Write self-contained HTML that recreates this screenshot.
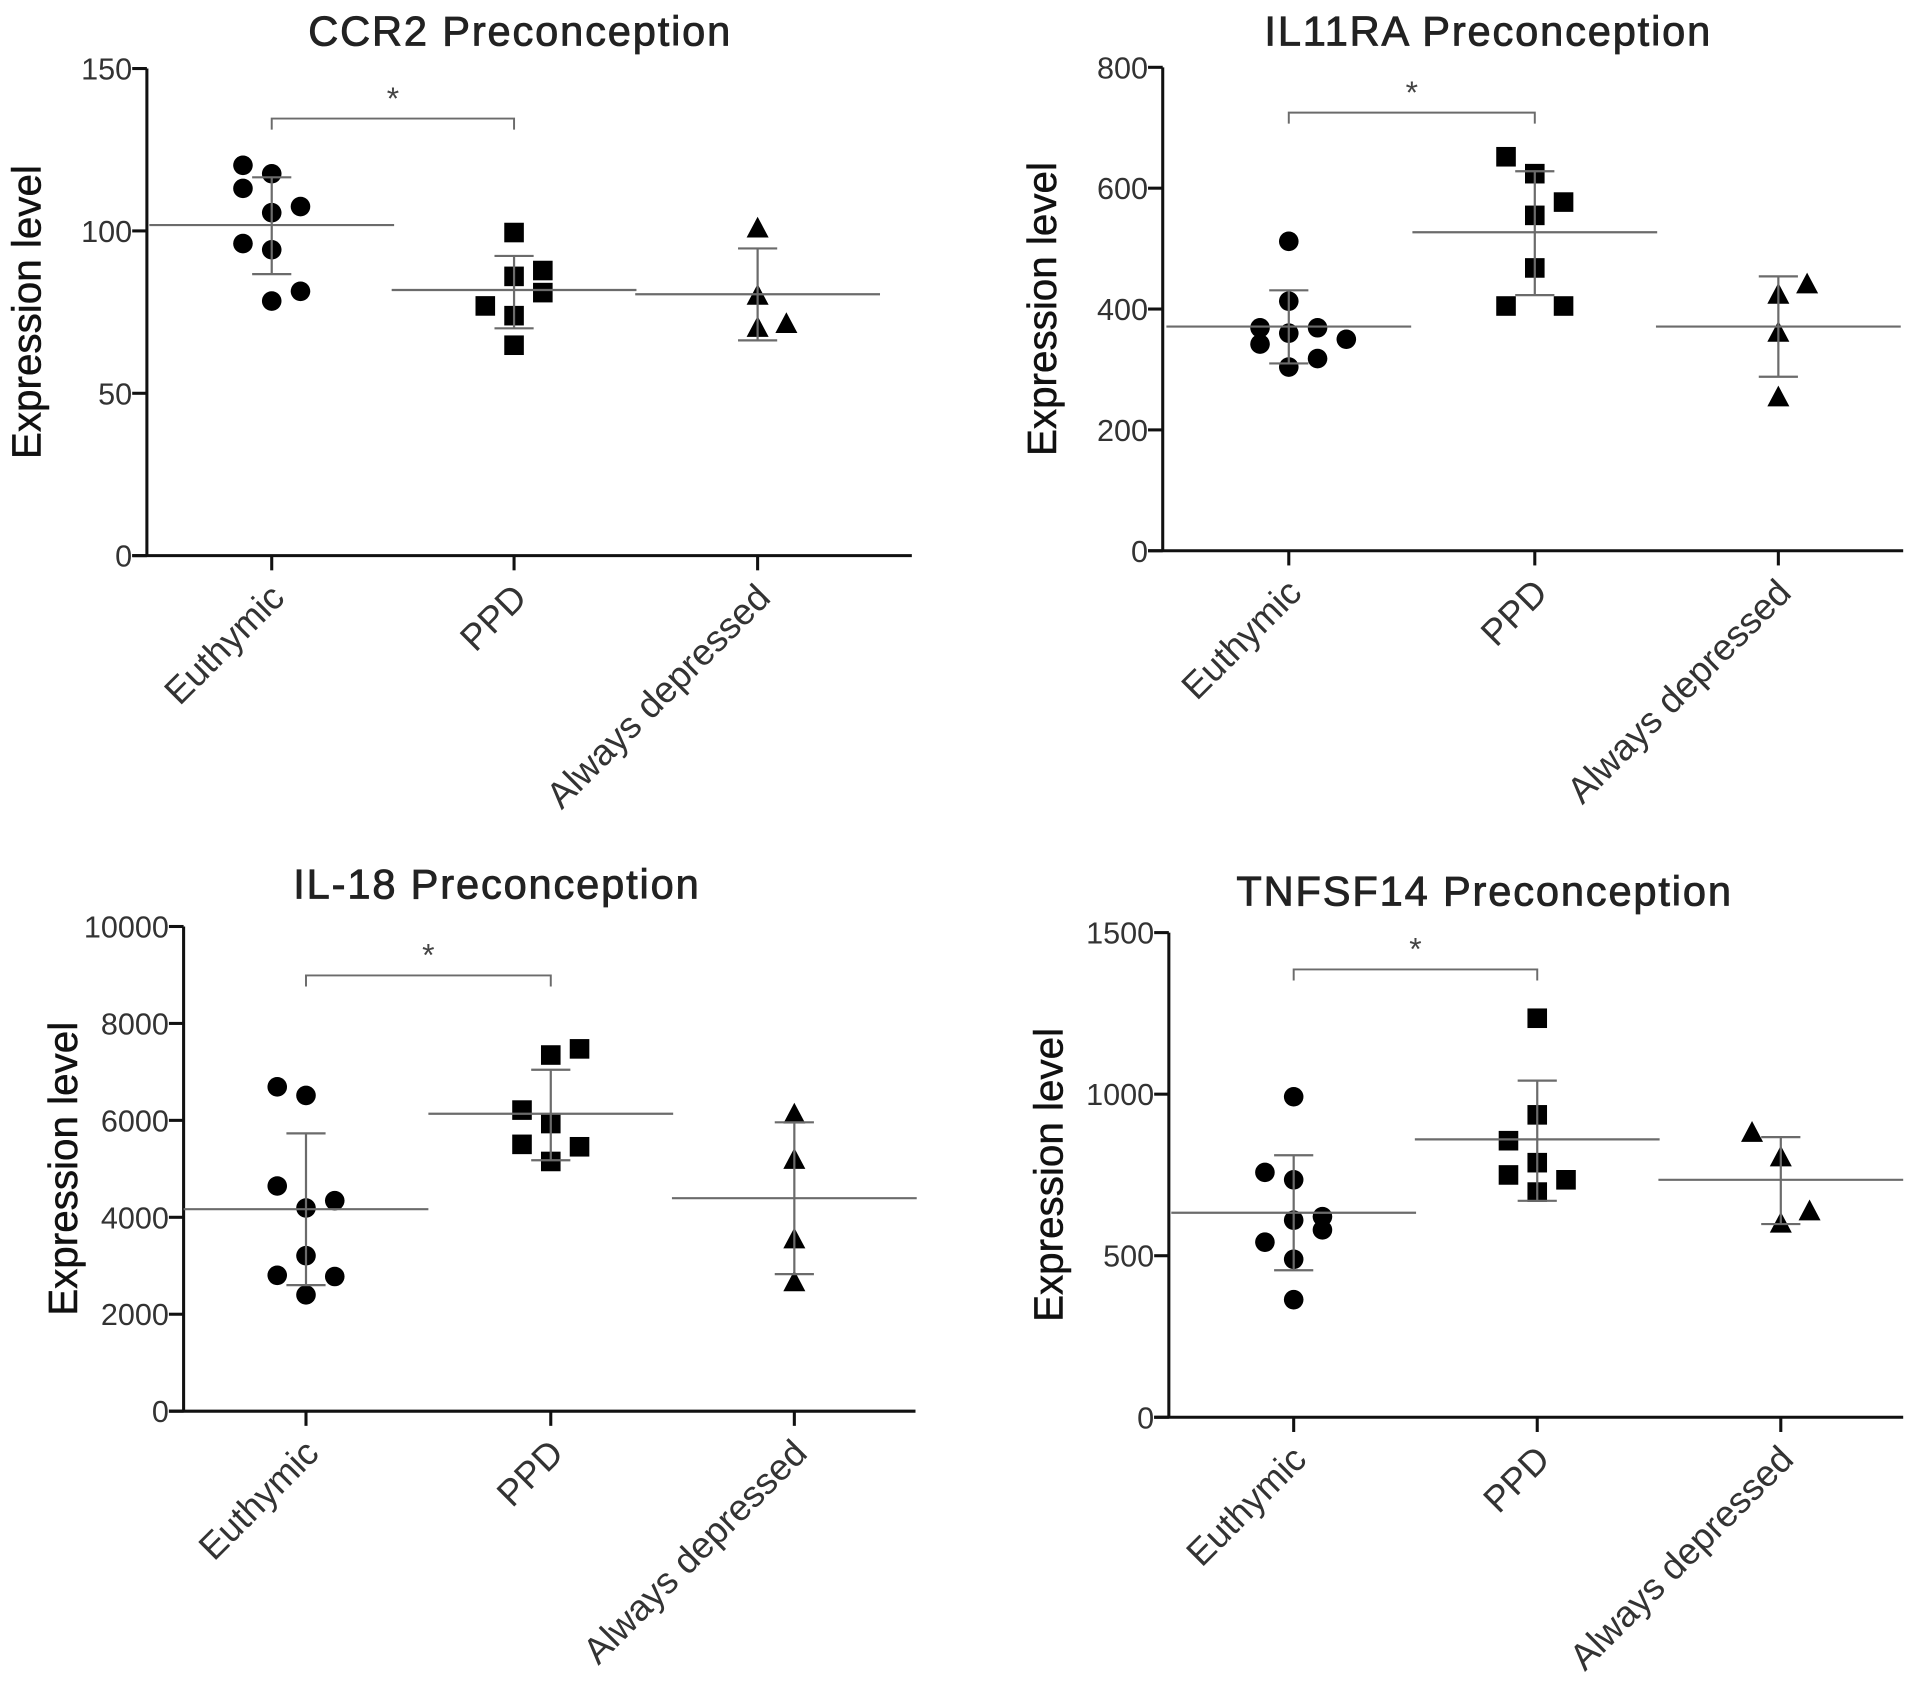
<!DOCTYPE html>
<html><head><meta charset="utf-8"><style>
html,body{margin:0;padding:0;background:#fff;}
svg{display:block;font-family:"Liberation Sans",Arial,sans-serif;}
</style></head><body>
<svg id="fig" width="1913" height="1700" viewBox="0 0 1563 1389" xmlns="http://www.w3.org/2000/svg"></svg>
<script>
// ---- data ----
const categories = ["Euthymic","PPD","Always depressed"];
const ccr2Titles = "CCR2 Preconception";
const ccr2Ticks = [0,50,100,150];
const ccr2Eu = [120.2,117.6,113.1,107.5,105.6,96.1,94.2,81.4,78.4];
const ccr2Ppd = [99.5,86,87.8,81,76.9,73.9,64.8];
const ccr2Ad = [100.6,79.9,70,71.2];
const ccr2Mean = [101.8,81.8,80.5];
const ccr2Upper = [116.5,92.3,94.6];
const ccr2Lower = [86.7,70,66.3];
const ccr2Bracket = 134.6;

const il11Title = "IL11RA Preconception";
const il11Ticks = [0,200,400,600,800];
const il11Eu = [512,413,369,360,369,342,350,318,304];
const il11Ppd = [652,624,577,555,468,405,405];
const il11Ad = [440,423,360,253];
const il11Mean = [371,527,371];
const il11Upper = [431,628,454];
const il11Lower = [310,423,288];
const il11Bracket = 725;

const il18Title = "IL-18 Preconception";
const il18Ticks = [0,2000,4000,6000,8000,10000];
const il18Eu = [6692,6515,4646,4343,4192,3207,2803,2778,2399];
const il18Ppd = [7475,7348,6212,5934,5505,5455,5152];
const il18Ad = [6111,5177,3535,2652];
const il18Mean = [4167,6136,4394];
const il18Upper = [5732,7045,5960];
const il18Lower = [2601,5177,2828];
const il18Bracket = 8990;

const tnfTitle = "TNFSF14 Preconception";
const tnfTicks = [0,500,1000,1500];
const tnfEu = [992,758,735,621,580,610,542,489,364];
const tnfPpd = [1235,936,856,788,750,735,697];
const tnfAd = [879,803,636,598];
const tnfMean = [633,860,735];
const tnfUpper = [811,1042,867];
const tnfLower = [455,670,598];
const tnfBracket = 1386;

// jitter slots (column index within the scatter group)
const ccr2Slots = [[-1,0,-1,1,0,-1,0,1,0],[0,0,1,1,-1,0,0],[0,0,0,1]];
const il11Slots = [[0,0,-1,0,1,-1,2,1,0],[-1,0,1,0,0,-1,1],[1,0,0,0]];
const il18Slots = [[-1,0,-1,1,0,0,-1,1,0],[1,0,-1,0,-1,1,0],[0,0,0,0]];
const tnfSlots = [[0,-1,0,1,1,0,-1,0,0],[0,0,-1,0,-1,1,0],[-1,0,1,0]];

// ---- layout ----
const NS="http://www.w3.org/2000/svg";
const svg=document.getElementById('fig');
function mk(tag,attrs,parent){const e=document.createElementNS(NS,tag);for(const k in attrs)e.setAttribute(k,attrs[k]);(parent||svg).appendChild(e);return e;}

const panels=[
 {id:'ccr2',title:ccr2Titles,ticks:ccr2Ticks,groups:[ccr2Eu,ccr2Ppd,ccr2Ad],slots:ccr2Slots,mean:ccr2Mean,up:ccr2Upper,lo:ccr2Lower,br:ccr2Bracket,
  ax:120,top:56,bot:454,right:745,cx:[222,420,619],tx:425,ty:37},
 {id:'il11ra',title:il11Title,ticks:il11Ticks,groups:[il11Eu,il11Ppd,il11Ad],slots:il11Slots,mean:il11Mean,up:il11Upper,lo:il11Lower,br:il11Bracket,
  ax:950,top:55,bot:450,right:1555,cx:[1053,1254,1453],tx:1216,ty:37},
 {id:'il18',title:il18Title,ticks:il18Ticks,groups:[il18Eu,il18Ppd,il18Ad],slots:il18Slots,mean:il18Mean,up:il18Upper,lo:il18Lower,br:il18Bracket,
  ax:150,top:757,bot:1153,right:748,cx:[250,450,649],tx:406,ty:734},
 {id:'tnfsf14',title:tnfTitle,ticks:tnfTicks,groups:[tnfEu,tnfPpd,tnfAd],slots:tnfSlots,mean:tnfMean,up:tnfUpper,lo:tnfLower,br:tnfBracket,
  ax:955,top:762,bot:1158,right:1555,cx:[1057,1256,1455],tx:1213,ty:740}
];
const grey='#6b6b6b';
panels.forEach(p=>{
  const g=mk('g',{});
  
  
  const max=p.ticks[p.ticks.length-1];
  const y=v=>p.bot-(v/max)*(p.bot-p.top);
  const t=mk('text',{x:p.tx,y:p.ty,'text-anchor':'middle','font-size':34,fill:'#222',stroke:'#222','stroke-width':0.7,'letter-spacing':'1.5'},g);
  t.textContent=p.title;
  
  
  const yl=mk('text',{x:0,y:0,transform:`translate(${p.ax-87},${(p.top+p.bot)/2}) rotate(-90)`,'text-anchor':'middle','font-size':33,fill:'#111',stroke:'#111','stroke-width':0.4},g);
  yl.textContent='Expression level';
  
  
  const ya=mk('line',{x1:p.ax,y1:p.top,x2:p.ax,y2:p.bot,stroke:'#111','stroke-width':2.5},g);
  
  
  const xa=mk('line',{x1:p.ax-12,y1:p.bot,x2:p.right,y2:p.bot,stroke:'#111','stroke-width':2.5},g);
  
  
  p.ticks.forEach(v=>{
    mk('line',{x1:p.ax-12,y1:y(v),x2:p.ax,y2:y(v),stroke:'#111','stroke-width':2.5},g);
    const tl=mk('text',{x:p.ax-12,y:y(v)+9,'text-anchor':'end','font-size':25,fill:'#333'},g);
    tl.textContent=v;
    
    
  });
  p.cx.forEach((cx,i)=>{
    mk('line',{x1:cx,y1:p.bot,x2:cx,y2:p.bot+12,stroke:'#111','stroke-width':2.5},g);
    const cl=mk('text',{x:0,y:0,transform:`translate(${cx+12},${p.bot+36}) rotate(-45)`,'text-anchor':'end','font-size':30,fill:'#333'},g);
    cl.textContent=categories[i];
    
    
  });
  const by=y(p.br);
  const bp=mk('path',{d:`M${p.cx[0]},${by+9}V${by}H${p.cx[1]}V${by+9}`,fill:'none',stroke:grey,'stroke-width':1.6},g);
  
  
  const st=mk('text',{x:(p.cx[0]+p.cx[1])/2,y:by-8,'text-anchor':'middle','font-size':26,fill:'#444'},g);
  st.textContent='*';
  
  
  p.groups.forEach((vals,gi)=>{
    vals.forEach((v,k)=>{
      const px=p.cx[gi]+p.slots[gi][k]*23.5, py=y(v);
      let m;
      if(gi===0) m=mk('circle',{cx:px,cy:py,r:8,fill:'#000'},g);
      else if(gi===1) m=mk('rect',{x:px-8,y:py-8,width:16,height:16,fill:'#000'},g);
      else m=mk('polygon',{points:`${px},${py-10} ${px-9},${py+7} ${px+9},${py+7}`,fill:'#000'},g);
      
      
    });
    const cx=p.cx[gi];
    const ml=mk('line',{x1:cx-100,y1:y(p.mean[gi]),x2:cx+100,y2:y(p.mean[gi]),stroke:grey,'stroke-width':1.8},g);
    
    
    const eb=mk('path',{d:`M${cx},${y(p.up[gi])}V${y(p.lo[gi])}M${cx-16},${y(p.up[gi])}H${cx+16}M${cx-16},${y(p.lo[gi])}H${cx+16}`,fill:'none',stroke:grey,'stroke-width':1.8},g);
    
    
  });
});
</script>
</body></html>
